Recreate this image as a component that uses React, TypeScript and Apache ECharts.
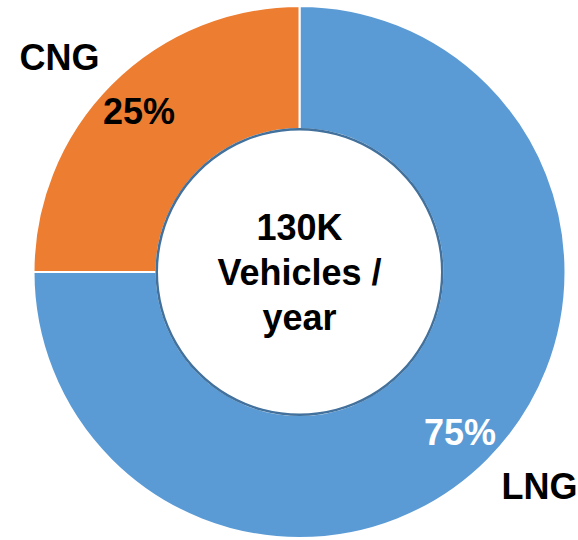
import React, { useEffect, useRef } from "react";
import * as echarts from "echarts";

const categories = ["LNG", "CNG"];
const shares = [75, 25];
const colors = ["#5B9BD5", "#ED7D31"];
const centerLines = ["130K", "Vehicles /", "year"];

const CENTER = [299.5, 272];
const FONT = "'Liberation Sans', Arial, Helvetica, sans-serif";
const FS = 36;

export default function App() {
  const ref = useRef<HTMLDivElement>(null);
  useEffect(() => {
    if (!ref.current) return;
    const chart = echarts.init(ref.current, undefined, { renderer: "svg" });
    const data = categories.map((c, i) => ({ name: c, value: shares[i] }));
    const common = {
      type: "pie",
      center: CENTER,
      startAngle: 90,
      clockwise: true,
      silent: true,
      avoidLabelOverlap: false,
      emphasis: { disabled: true },
      labelLine: { show: false },
    };
    chart.setOption({
      animation: false,
      backgroundColor: "#ffffff",
      series: [
        {
          ...common,
          radius: [143, 266],
          data: data.map((d, i) => ({
            ...d,
            itemStyle: { color: colors[i], borderColor: "#ffffff", borderWidth: 2 },
          })),
          label: { show: false },
        },
        {
          ...common,
          radius: [141.5, 144],
          data: [{ name: "ring", value: 1, itemStyle: { color: "#41719C" } }],
          label: { show: false },
        },
        {
          ...common,
          radius: [182, 266],
          data: data.map((d, i) => ({
            ...d,
            itemStyle: { color: "rgba(0,0,0,0)" },
            label: { color: i === 0 ? "#ffffff" : "#000000" },
          })),
          label: {
            show: true,
            position: "inside",
            formatter: "{c}%",
            fontFamily: FONT,
            fontWeight: "bold",
            fontSize: FS,
          },
        },
        {
          ...common,
          startAngle: 93.2,
          radius: [301, 337],
          data: data.map((d) => ({ ...d, itemStyle: { color: "rgba(0,0,0,0)" } })),
          label: {
            show: true,
            position: "inside",
            formatter: "{b}",
            color: "#000000",
            fontFamily: FONT,
            fontWeight: "bold",
            fontSize: FS,
          },
        },
        {
          ...common,
          radius: [0, 140],
          data: [{ name: "center", value: 1, itemStyle: { color: "rgba(0,0,0,0)" } }],
          label: {
            show: true,
            position: "center",
            formatter: centerLines.join("\n"),
            color: "#000000",
            fontFamily: FONT,
            fontWeight: "bold",
            fontSize: FS,
            lineHeight: 45,
            padding: [13, 0, 0, 0],
          },
        },
      ],
    });
    return () => chart.dispose();
  }, []);
  return (
    <div
      ref={ref}
      style={{ position: "fixed", left: 0, top: 0, width: 578, height: 540 }}
    />
  );
}
